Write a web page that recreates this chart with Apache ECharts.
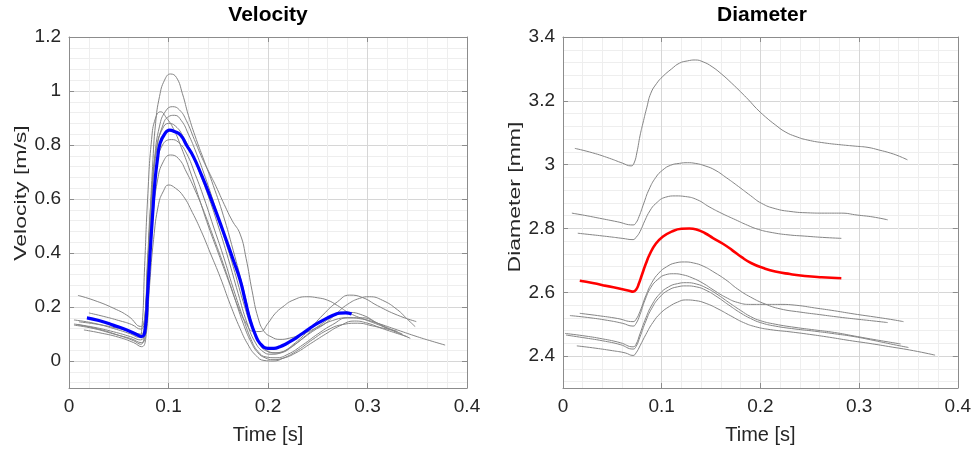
<!DOCTYPE html>
<html><head><meta charset="utf-8">
<script src="https://cdn.jsdelivr.net/npm/echarts@6/dist/echarts.min.js"></script>
<style>html,body{margin:0;padding:0;background:#fff}#c{width:974px;height:451px}</style>
</head><body><div id="c"></div>
<script>
// ---------------- tick values ----------------
const timeTicks = [0, 0.1, 0.2, 0.3, 0.4];
const velTicks = [0, 0.2, 0.4, 0.6, 0.8, 1, 1.2];
const diamTicks = [2.4, 2.6, 2.8, 3, 3.2, 3.4];
const velMinorTicks = [];
for (let k = -2; k <= 30; k++) velMinorTicks.push(Math.round(k * 4) / 100);
const diamMinorTicks = [];
for (let k = 58; k <= 85; k++) diamMinorTicks.push(Math.round(k * 4) / 100);

// ---------------- velocity [time s, m/s] ----------------
const velMean = [[0.018,0.160],[0.03,0.150],[0.045,0.132],[0.058,0.115],[0.068,0.098],[0.073,0.090],[0.0765,0.115],[0.079,0.25],[0.0815,0.40],[0.084,0.54],[0.0865,0.67],[0.089,0.75],[0.0915,0.806],[0.096,0.84],[0.101,0.855],[0.106,0.85],[0.112,0.837],[0.118,0.80],[0.125,0.757],[0.133,0.69],[0.142,0.608],[0.15,0.53],[0.158,0.448],[0.165,0.375],[0.172,0.30],[0.177,0.225],[0.182,0.152],[0.187,0.10],[0.192,0.065],[0.2,0.047],[0.206,0.047],[0.212,0.053],[0.218,0.063],[0.225,0.078],[0.233,0.098],[0.242,0.121],[0.25,0.14],[0.259,0.158],[0.266,0.17],[0.272,0.177],[0.278,0.178],[0.284,0.174]];
const vel1 = [[0.008,0.135],[0.03,0.118],[0.05,0.095],[0.065,0.075],[0.072,0.062],[0.0755,0.09],[0.078,0.25],[0.081,0.5],[0.084,0.72],[0.087,0.88],[0.091,0.98],[0.096,1.04],[0.102,1.063],[0.108,1.05],[0.114,0.99],[0.12,0.91],[0.128,0.82],[0.136,0.74],[0.145,0.65],[0.155,0.54],[0.165,0.41],[0.175,0.27],[0.183,0.15],[0.19,0.08],[0.197,0.045],[0.205,0.03],[0.215,0.035],[0.225,0.06],[0.24,0.11],[0.255,0.17],[0.27,0.22],[0.282,0.244],[0.295,0.235],[0.31,0.205],[0.33,0.17],[0.349,0.146]];
const vel2 = [[0.009,0.243],[0.025,0.225],[0.045,0.195],[0.06,0.165],[0.072,0.128],[0.076,0.16],[0.079,0.35],[0.082,0.55],[0.086,0.75],[0.091,0.87],[0.097,0.925],[0.104,0.942],[0.111,0.93],[0.118,0.89],[0.126,0.82],[0.134,0.75],[0.142,0.69],[0.148,0.645],[0.156,0.58],[0.164,0.52],[0.172,0.47],[0.178,0.38],[0.184,0.26],[0.19,0.16],[0.196,0.11],[0.203,0.09],[0.212,0.08],[0.222,0.085],[0.235,0.1],[0.25,0.125],[0.265,0.15],[0.28,0.16],[0.295,0.155],[0.31,0.14],[0.33,0.115],[0.35,0.09],[0.365,0.073],[0.378,0.059]];
const vel3 = [[0.005,0.152],[0.025,0.14],[0.045,0.12],[0.062,0.10],[0.070,0.088],[0.073,0.11],[0.076,0.35],[0.079,0.6],[0.083,0.82],[0.087,0.9],[0.092,0.923],[0.098,0.9],[0.105,0.86],[0.113,0.79],[0.122,0.7],[0.131,0.6],[0.14,0.5],[0.15,0.4],[0.16,0.3],[0.17,0.2],[0.178,0.14],[0.185,0.11],[0.192,0.109],[0.2,0.14],[0.207,0.175],[0.215,0.201],[0.225,0.225],[0.239,0.238],[0.25,0.234],[0.26,0.225],[0.27,0.205],[0.282,0.177],[0.3,0.15],[0.316,0.127],[0.33,0.105],[0.343,0.084]];
const vel4 = [[0.02,0.178],[0.035,0.165],[0.05,0.15],[0.063,0.135],[0.072,0.118],[0.0755,0.14],[0.079,0.35],[0.083,0.6],[0.088,0.78],[0.094,0.87],[0.1,0.905],[0.106,0.91],[0.113,0.89],[0.12,0.84],[0.128,0.77],[0.137,0.68],[0.146,0.58],[0.155,0.47],[0.165,0.35],[0.175,0.22],[0.184,0.12],[0.192,0.06],[0.2,0.035],[0.21,0.03],[0.22,0.045],[0.232,0.075],[0.245,0.11],[0.258,0.14],[0.269,0.177],[0.28,0.21],[0.292,0.232],[0.302,0.238],[0.315,0.225],[0.33,0.19],[0.34,0.155],[0.348,0.127]];
const vel5 = [[0.005,0.137],[0.025,0.125],[0.045,0.108],[0.062,0.09],[0.072,0.078],[0.0755,0.1],[0.079,0.3],[0.083,0.55],[0.088,0.72],[0.094,0.8],[0.103,0.82],[0.11,0.81],[0.118,0.77],[0.127,0.69],[0.136,0.6],[0.145,0.5],[0.155,0.39],[0.165,0.27],[0.175,0.16],[0.183,0.08],[0.19,0.035],[0.198,0.015],[0.208,0.012],[0.22,0.025],[0.235,0.06],[0.25,0.1],[0.265,0.135],[0.28,0.16],[0.295,0.16],[0.31,0.14],[0.322,0.12],[0.335,0.1]];
const vel6 = [[0.005,0.133],[0.025,0.12],[0.045,0.1],[0.062,0.083],[0.073,0.068],[0.0765,0.09],[0.08,0.3],[0.084,0.52],[0.089,0.67],[0.095,0.74],[0.102,0.763],[0.11,0.75],[0.118,0.7],[0.127,0.63],[0.136,0.55],[0.145,0.46],[0.155,0.36],[0.165,0.25],[0.175,0.14],[0.183,0.07],[0.19,0.03],[0.197,0.012],[0.205,0.005],[0.215,0.01],[0.228,0.03],[0.243,0.065],[0.258,0.1],[0.272,0.13],[0.287,0.148],[0.3,0.14],[0.315,0.12],[0.34,0.09]];
const vel7 = [[0.015,0.115],[0.03,0.105],[0.05,0.088],[0.065,0.068],[0.073,0.053],[0.077,0.08],[0.081,0.28],[0.085,0.45],[0.09,0.58],[0.095,0.63],[0.1,0.652],[0.107,0.64],[0.115,0.61],[0.124,0.55],[0.133,0.48],[0.142,0.4],[0.152,0.31],[0.162,0.21],[0.172,0.12],[0.18,0.06],[0.188,0.02],[0.196,0.002],[0.205,0.0],[0.215,0.01],[0.23,0.04],[0.245,0.08],[0.26,0.115],[0.275,0.135],[0.29,0.14],[0.305,0.13],[0.33,0.11]];
const vel8 = [[0.01,0.145],[0.03,0.135],[0.05,0.12],[0.063,0.108],[0.072,0.1],[0.0755,0.12],[0.079,0.38],[0.083,0.62],[0.088,0.79],[0.094,0.86],[0.1,0.88],[0.107,0.87],[0.115,0.83],[0.123,0.77],[0.132,0.69],[0.141,0.6],[0.15,0.5],[0.16,0.38],[0.17,0.25],[0.179,0.14],[0.187,0.07],[0.195,0.035],[0.203,0.025],[0.213,0.03],[0.225,0.055],[0.24,0.1],[0.255,0.14],[0.268,0.17],[0.28,0.18],[0.295,0.17],[0.31,0.14],[0.32,0.12]];

// ---------------- diameter [time s, mm] ----------------
const diamMean = [[0.017,2.636],[0.03,2.629],[0.044,2.62],[0.058,2.611],[0.067,2.605],[0.071,2.602],[0.074,2.608],[0.077,2.628],[0.08,2.655],[0.084,2.69],[0.088,2.72],[0.094,2.752],[0.101,2.774],[0.11,2.79],[0.12,2.799],[0.128,2.8],[0.136,2.796],[0.144,2.785],[0.152,2.77],[0.162,2.752],[0.171,2.733],[0.181,2.71],[0.191,2.691],[0.203,2.676],[0.215,2.665],[0.23,2.657],[0.245,2.651],[0.262,2.647],[0.282,2.644]];
const diam1 = [[0.012,3.051],[0.03,3.037],[0.047,3.02],[0.06,3.005],[0.069,2.996],[0.072,3.005],[0.075,3.04],[0.078,3.09],[0.081,3.13],[0.085,3.18],[0.089,3.224],[0.095,3.255],[0.101,3.276],[0.11,3.3],[0.118,3.318],[0.126,3.325],[0.134,3.328],[0.142,3.322],[0.151,3.307],[0.161,3.283],[0.171,3.255],[0.18,3.228],[0.188,3.203],[0.196,3.176],[0.205,3.15],[0.215,3.125],[0.225,3.103],[0.236,3.088],[0.248,3.077],[0.265,3.068],[0.282,3.062],[0.296,3.058],[0.309,3.054],[0.32,3.046],[0.332,3.036],[0.341,3.026],[0.349,3.015]];
const diam2 = [[0.009,2.848],[0.022,2.841],[0.037,2.832],[0.055,2.821],[0.071,2.811],[0.074,2.818],[0.077,2.837],[0.082,2.88],[0.087,2.921],[0.094,2.96],[0.101,2.983],[0.109,2.998],[0.118,3.004],[0.126,3.006],[0.134,3.004],[0.144,2.996],[0.154,2.983],[0.166,2.958],[0.178,2.931],[0.19,2.903],[0.201,2.879],[0.215,2.862],[0.231,2.853],[0.248,2.849],[0.265,2.848],[0.282,2.848],[0.298,2.842],[0.314,2.836],[0.329,2.827]];
const diam3 = [[0.015,2.785],[0.03,2.78],[0.047,2.774],[0.06,2.769],[0.071,2.765],[0.074,2.772],[0.078,2.79],[0.083,2.825],[0.088,2.855],[0.094,2.878],[0.104,2.898],[0.114,2.902],[0.124,2.9],[0.136,2.89],[0.148,2.868],[0.161,2.847],[0.175,2.827],[0.187,2.81],[0.198,2.797],[0.212,2.787],[0.228,2.78],[0.245,2.776],[0.263,2.772],[0.282,2.769]];
const diam4 = [[0.017,2.534],[0.035,2.527],[0.055,2.518],[0.071,2.508],[0.074,2.515],[0.078,2.54],[0.084,2.59],[0.09,2.63],[0.097,2.66],[0.105,2.68],[0.114,2.692],[0.123,2.695],[0.132,2.692],[0.142,2.682],[0.153,2.663],[0.165,2.639],[0.177,2.61],[0.19,2.585],[0.205,2.563],[0.22,2.548],[0.24,2.538],[0.26,2.53],[0.28,2.522],[0.3,2.515],[0.315,2.51],[0.329,2.505]];
const diam5 = [[0.007,2.527],[0.025,2.521],[0.045,2.512],[0.06,2.503],[0.071,2.494],[0.074,2.502],[0.078,2.53],[0.083,2.575],[0.089,2.615],[0.096,2.64],[0.104,2.655],[0.112,2.658],[0.121,2.655],[0.131,2.645],[0.142,2.628],[0.153,2.606],[0.165,2.584],[0.177,2.568],[0.19,2.562],[0.205,2.562],[0.22,2.562],[0.237,2.559],[0.255,2.551],[0.275,2.542],[0.295,2.532],[0.315,2.523],[0.332,2.515],[0.345,2.508]];
const diam6 = [[0.002,2.471],[0.02,2.464],[0.04,2.454],[0.058,2.442],[0.071,2.429],[0.074,2.437],[0.078,2.47],[0.084,2.52],[0.09,2.56],[0.098,2.595],[0.107,2.617],[0.116,2.627],[0.125,2.63],[0.135,2.626],[0.145,2.614],[0.156,2.594],[0.168,2.568],[0.18,2.543],[0.19,2.524],[0.2,2.511],[0.215,2.5],[0.235,2.49],[0.255,2.482],[0.275,2.474],[0.295,2.463],[0.315,2.452],[0.342,2.438]];
const diam7 = [[0.003,2.466],[0.02,2.458],[0.04,2.448],[0.058,2.436],[0.071,2.422],[0.074,2.43],[0.078,2.46],[0.084,2.51],[0.09,2.55],[0.098,2.585],[0.107,2.607],[0.116,2.617],[0.125,2.62],[0.135,2.617],[0.145,2.606],[0.156,2.586],[0.168,2.56],[0.18,2.535],[0.19,2.518],[0.2,2.505],[0.215,2.494],[0.235,2.485],[0.255,2.478],[0.275,2.47],[0.295,2.461],[0.315,2.449],[0.335,2.436],[0.35,2.427]];
const diam8 = [[0.014,2.432],[0.03,2.426],[0.05,2.417],[0.063,2.41],[0.071,2.402],[0.074,2.41],[0.078,2.432],[0.084,2.468],[0.091,2.505],[0.099,2.535],[0.108,2.556],[0.116,2.569],[0.124,2.576],[0.134,2.574],[0.145,2.565],[0.157,2.548],[0.17,2.526],[0.183,2.505],[0.195,2.492],[0.21,2.483],[0.23,2.476],[0.25,2.468],[0.27,2.459],[0.29,2.449],[0.31,2.44],[0.33,2.43],[0.355,2.417],[0.377,2.403]];

const velGray = [vel1, vel2, vel3, vel4, vel5, vel6, vel7, vel8];
const diamGray = [diam1, diam2, diam3, diam4, diam5, diam6, diam7, diam8];

// ---------------- styling ----------------
const FONT = "'Liberation Sans',Arial,sans-serif";
const BOX = '#8c8c8c';
const MAJOR = '#d6d6d6';
const MINOR = '#eeeeee';
const TXT = '#262626';

function xAxes(g) {
  return [
    { type:'value', gridIndex:g, min:0, max:0.4, interval:0.1, position:'bottom',
      axisLine:{show:true, onZero:false, lineStyle:{color:BOX, width:1}},
      axisTick:{show:true, inside:true, length:5, lineStyle:{color:BOX}},
      axisLabel:{color:TXT, fontSize:19, fontFamily:FONT, margin:9},
      splitLine:{show:true, lineStyle:{color:MAJOR, width:1}},
      minorTick:{show:false, splitNumber:5},
      minorSplitLine:{show:true, lineStyle:{color:MINOR, width:1}},
      name:'Time [s]', nameLocation:'middle', nameGap:37,
      nameTextStyle:{color:TXT, fontSize:20, fontFamily:FONT} },
    { type:'value', gridIndex:g, min:0, max:0.4, interval:0.1, position:'top',
      axisLine:{show:true, onZero:false, lineStyle:{color:BOX, width:1}},
      axisTick:{show:true, inside:true, length:5, lineStyle:{color:BOX}},
      axisLabel:{show:false}, splitLine:{show:false} }
  ];
}
function yAxes(g, min, max, major, minor) {
  return [
    { type:'value', gridIndex:g, min:min, max:max, position:'left',
      axisLine:{show:false}, axisTick:{show:false, customValues:minor},
      axisLabel:{show:false},
      splitLine:{show:true, lineStyle:{color:MINOR, width:1}} },
    { type:'value', gridIndex:g, min:min, max:max, position:'left',
      axisLine:{show:true, onZero:false, lineStyle:{color:BOX, width:1}},
      axisTick:{show:true, inside:true, length:5, customValues:major, lineStyle:{color:BOX}},
      axisLabel:{color:TXT, fontSize:19, fontFamily:FONT, margin:8, customValues:major},
      splitLine:{show:true, lineStyle:{color:MAJOR, width:1}} },
    { type:'value', gridIndex:g, min:min, max:max, position:'right',
      axisLine:{show:true, onZero:false, lineStyle:{color:BOX, width:1}},
      axisTick:{show:true, inside:true, length:5, customValues:major, lineStyle:{color:BOX}},
      axisLabel:{show:false}, splitLine:{show:false} }
  ];
}

function line(data, xi, yi, color, width, z) {
  return { type:'line', xAxisIndex:xi, yAxisIndex:yi, data:data, showSymbol:false, symbol:'none',
    smooth:0.5, silent:true, z:z,
    lineStyle:{color:color, width:width}, emphasis:{disabled:true} };
}

const series = [];
velGray.forEach(d => series.push(line(d, 0, 1, '#858585', 1, 3)));
series.push(line(velMean, 0, 1, '#0000ff', 3.2, 4));
diamGray.forEach(d => series.push(line(d, 2, 4, '#858585', 1, 3)));
series.push(line(diamMean, 2, 4, '#ff0000', 2.6, 4));

const option = {
  animation:false,
  backgroundColor:'#ffffff',
  grid:[
    {left:69, top:37, width:398, height:351, containLabel:false},
    {left:563, top:37, width:398, height:351, containLabel:false}
  ],
  xAxis: xAxes(0).concat(xAxes(1)),
  yAxis: yAxes(0, -0.1, 1.2, velTicks, velMinorTicks).concat(yAxes(1, 2.3, 3.4, diamTicks, diamMinorTicks)),
  graphic:[
    {type:'text', x:268, y:15, style:{text:'Velocity', font:"bold 21px "+FONT, fill:'#000', align:'center', verticalAlign:'middle', textAlign:'center', textVerticalAlign:'middle'}},
    {type:'text', x:762, y:15, style:{text:'Diameter', font:"bold 21px "+FONT, fill:'#000', align:'center', verticalAlign:'middle', textAlign:'center', textVerticalAlign:'middle'}},
    {type:'text', x:21, y:193, rotation:Math.PI/2, scaleY:0.72, style:{text:'Velocity [m/s]', font:"23px "+FONT, fill:TXT, align:'center', verticalAlign:'middle', textAlign:'center', textVerticalAlign:'middle'}},
    {type:'text', x:515, y:197, rotation:Math.PI/2, scaleY:0.72, style:{text:'Diameter [mm]', font:"23px "+FONT, fill:TXT, align:'center', verticalAlign:'middle', textAlign:'center', textVerticalAlign:'middle'}}
  ],
  series: series
};
const chart = echarts.init(document.getElementById('c'), null, {renderer:'canvas'});
chart.setOption(option);
</script></body></html>
